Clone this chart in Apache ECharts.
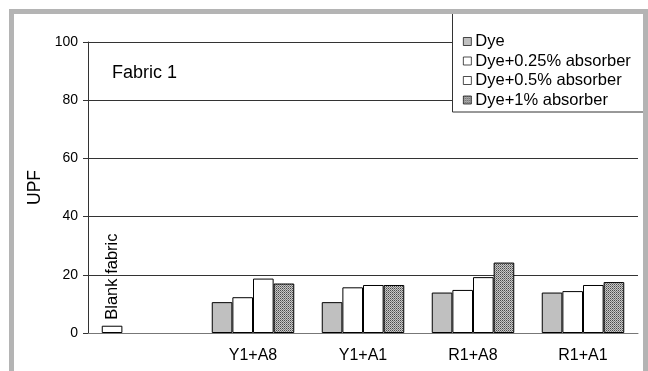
<!DOCTYPE html>
<html>
<head>
<meta charset="utf-8">
<script src="https://cdn.jsdelivr.net/npm/echarts@6/dist/echarts.min.js"></script>
<style>
html,body{margin:0;padding:0;background:#fff;}
#c{width:648px;height:371px;}
</style>
</head>
<body>
<div id="c"></div>
<script>
// ---- data ----
const categories = ['', 'Y1+A8', 'Y1+A1', 'R1+A8', 'R1+A1'];
const blankFabric = [2.5];
const dye = [10.6, 10.6, 13.9, 13.9];
const dye025 = [12.3, 15.7, 14.8, 14.4];
const dye05 = [18.7, 16.5, 19.2, 16.5];
const dye1 = [17.0, 16.5, 24.2, 17.5];
const seriesNames = ['Dye', 'Dye+0.25% absorber', 'Dye+0.5% absorber', 'Dye+1% absorber'];
const yTicks = [0, 20, 40, 60, 80, 100];

// dotted pattern
const pc = document.createElement('canvas');
pc.width = 2; pc.height = 2;
const pctx = pc.getContext('2d');
pctx.fillStyle = '#c8c8c8'; pctx.fillRect(0, 0, 2, 2);
pctx.fillStyle = '#4a4a4a'; pctx.fillRect(0, 0, 1, 1);
pctx.fillStyle = '#808080'; pctx.fillRect(1, 1, 1, 1);
const pattern = {image: pc, repeat: 'repeat'};

const FONT = "'Liberation Sans', Arial, sans-serif";
const chart = echarts.init(document.getElementById('c'), null, {renderer: 'canvas'});

const dyeData = [{
  value: blankFabric[0],
  itemStyle: {color: '#ffffff'},
  label: {
    show: true, formatter: 'Blank fabric', position: 'top', rotate: 90,
    align: 'left', verticalAlign: 'middle', distance: 6,
    fontSize: 16.5, fontFamily: FONT, color: '#000'
  }
}].concat(dye);
const pad = ['-'];

function barSeries(name, data, color) {
  return {
    name: name, type: 'bar', data: data,
    barGap: '0%', barCategoryGap: '25%',
    itemStyle: {color: color, borderColor: '#000', borderWidth: 1},
    emphasis: {disabled: true},
    animation: false
  };
}

chart.setOption({
  animation: false,
  backgroundColor: '#fff',
  textStyle: {fontFamily: FONT},
  title: {
    text: 'Fabric 1', left: 107, top: 59,
    textStyle: {fontSize: 18, fontWeight: 'normal', color: '#000', fontFamily: FONT}
  },
  grid: {left: 88, right: 10, top: 42, bottom: 38},
  legend: {
    orient: 'vertical', left: 452, top: 14, z: 10,
    padding: [18, 0, 3, 11],
    itemWidth: 8, itemHeight: 8, itemGap: 0.5,
    icon: 'rect',
    data: seriesNames,
    itemStyle: {borderWidth: 0.7},
    textStyle: {fontSize: 16.5, lineHeight: 19, color: '#000', fontFamily: FONT, padding: [0, 0, 0, -1]},
    selectedMode: false
  },
  graphic: [
    {type: 'rect', z: 5, shape: {x: 452.5, y: 12, width: 191, height: 100},
     style: {fill: '#fff', stroke: '#333', lineWidth: 1}},
    {type: 'rect', z: 20, shape: {x: 11.5, y: 11.5, width: 634, height: 420},
     style: {fill: 'none', stroke: '#b4b4b4', lineWidth: 5}}
  ],
  xAxis: {
    type: 'category', data: categories,
    axisLine: {show: true, lineStyle: {color: '#777', width: 1}},
    axisTick: {show: false},
    axisLabel: {fontSize: 16, color: '#000', margin: 15, fontFamily: FONT},
    splitLine: {show: false}
  },
  yAxis: {
    type: 'value', min: yTicks[0], max: yTicks[yTicks.length - 1], interval: 20,
    name: 'UPF', nameLocation: 'middle', nameRotate: 90, nameGap: 44,
    nameTextStyle: {fontSize: 17.5, color: '#000', fontFamily: FONT},
    axisLine: {show: true, lineStyle: {color: '#333', width: 1}},
    axisTick: {show: true, inside: false, length: 5, lineStyle: {color: '#333'}},
    axisLabel: {fontSize: 14, color: '#000', margin: 10, fontFamily: FONT},
    splitLine: {show: true, lineStyle: {color: '#333', width: 1}}
  },
  series: [
    barSeries(seriesNames[0], dyeData, '#c0c0c0'),
    barSeries(seriesNames[1], pad.concat(dye025), '#ffffff'),
    barSeries(seriesNames[2], pad.concat(dye05), '#ffffff'),
    barSeries(seriesNames[3], pad.concat(dye1), pattern)
  ]
});
</script>
</body>
</html>
